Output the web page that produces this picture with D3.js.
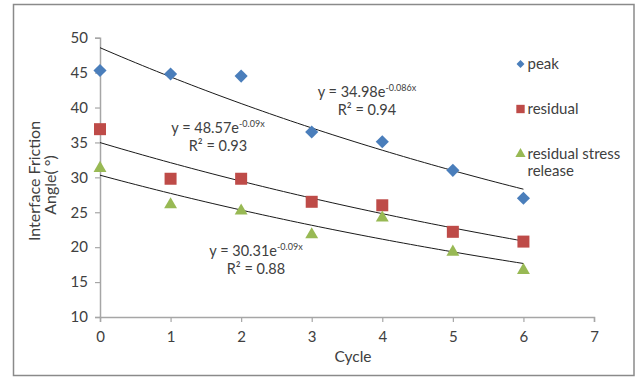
<!DOCTYPE html>
<html>
<head>
<meta charset="utf-8">
<script src="https://cdn.jsdelivr.net/npm/d3@7"></script>
<style>
  html, body { margin: 0; padding: 0; background: #fff; }
  svg text { font-family: "Lato", "Open Sans", sans-serif; fill: #404040; }
</style>
</head>
<body>
<svg id="chart" width="637" height="377"></svg>
<script>
// Interface friction angle over loading cycles
const cycles = [0, 1, 2, 3, 4, 5, 6];
const peak = [45.3, 44.8, 44.5, 36.5, 35.1, 31.0, 27.0];
const residual = [36.9, 29.8, 29.8, 26.5, 26.0, 22.2, 20.8];
const stressRelease = [31.3, 26.1, 25.2, 21.8, 24.2, 19.3, 16.7];

// exponential trendline coefficients (a * e^(b x))
const fitPeak = { a: 48.57, b: -0.09 };
const fitResidual = { a: 34.98, b: -0.086 };
const fitStress = { a: 30.31, b: -0.09 };

const seriesNames = ["peak", "residual", "residual stress release"];
const xTicks = [0, 1, 2, 3, 4, 5, 6, 7];
const yTicks = [10, 15, 20, 25, 30, 35, 40, 45, 50];

const colors = { peak: "#4a7ebb", residual: "#be4b48", stress: "#98b954" };

const svg = d3.select("#chart");

// outer frame
svg.append("rect")
  .attr("x", 13.5).attr("y", 4.5).attr("width", 620.5).attr("height", 371)
  .attr("fill", "#fff").attr("stroke", "#8a8a8a").attr("stroke-width", 1.5);

const x = d3.scaleLinear().domain([0, 7]).range([100, 594]);
const y = d3.scaleLinear().domain([10, 50]).range([317, 37.7]);

const axisColor = "#a6a6a6";

// y axis
const yAxis = svg.append("g").attr("transform", `translate(${x(0)},0)`)
  .call(d3.axisLeft(y).tickValues(yTicks).tickFormat(d3.format("d")).tickSize(5).tickPadding(7));
// x axis
const xAxis = svg.append("g").attr("transform", `translate(0,${y(10)})`)
  .call(d3.axisBottom(x).tickValues(xTicks).tickFormat(d3.format("d")).tickSize(5).tickPadding(9));

[yAxis, xAxis].forEach(g => {
  g.select(".domain").attr("stroke", axisColor).attr("stroke-width", 1.5);
  g.selectAll(".tick line").attr("stroke", axisColor).attr("stroke-width", 1.2);
  g.selectAll(".tick text").attr("font-size", 15).attr("fill", "#404040")
    .style("font-family", "Lato, sans-serif");
});

// axis titles
svg.append("text").attr("x", x(3.5) + 6).attr("y", 362)
  .attr("text-anchor", "middle").attr("font-size", 15.5).text("Cycle");
const yt = svg.append("text").attr("transform", "translate(35,181) rotate(-90)")
  .attr("text-anchor", "middle").attr("font-size", 16);
yt.append("tspan").attr("x", 0).attr("y", 5).text("Interface Friction");
yt.append("tspan").attr("x", -4).attr("y", 21).text("Angle( °)");

// trendlines
const xs = d3.range(0, 6.0001, 0.1);
const line = d3.line().x(d => x(d[0])).y(d => y(d[1]));
[fitPeak, fitResidual, fitStress].forEach(f => {
  svg.append("path")
    .datum(xs.map(v => [v, f.a * Math.exp(f.b * v)]))
    .attr("d", line).attr("fill", "none").attr("stroke", "#1a1a1a").attr("stroke-width", 1);
});

// markers
const diamond = d3.symbol().type(d3.symbolDiamond2).size(110);
const square = d3.symbol().type(d3.symbolSquare).size(144);
const tri = d3.symbol().type(d3.symbolTriangle).size(72);

function drawSeries(vals, sym, color) {
  svg.append("g").selectAll("path").data(vals).join("path")
    .attr("transform", (d, i) => `translate(${x(cycles[i])},${y(d)})`)
    .attr("d", sym).attr("fill", color);
}
drawSeries(peak, diamond, colors.peak);
drawSeries(residual, square, colors.residual);
drawSeries(stressRelease, tri, colors.stress);

// equation labels
function eq(cx, cy, a, b, r2) {
  const t = svg.append("text").attr("x", cx).attr("y", cy).attr("text-anchor", "middle").attr("font-size", 14.5);
  t.append("tspan").text(`y = ${a}e`);
  t.append("tspan").attr("dy", -6).attr("font-size", 9).text(`${b}x`);
  svg.append("text").attr("x", cx).attr("y", cy + 18).attr("text-anchor", "middle")
    .attr("font-size", 14.5).text(`R² = ${r2}`);
}
eq(367, 97, "34.98", "-0.086", "0.94");
eq(218, 133, "48.57", "-0.09", "0.93");
eq(256, 256, "30.31", "-0.09", "0.88");

// legend
const legend = svg.append("g");
const legendItems = [
  { sym: d3.symbol().type(d3.symbolDiamond2).size(40), color: colors.peak, y: 64, lines: ["peak"] },
  { sym: d3.symbol().type(d3.symbolSquare).size(70), color: colors.residual, y: 109, lines: ["residual"] },
  { sym: d3.symbol().type(d3.symbolTriangle).size(45), color: colors.stress, y: 154, lines: ["residual stress", "release"] }
];
legendItems.forEach(it => {
  legend.append("path").attr("transform", `translate(520.5,${it.y})`).attr("d", it.sym).attr("fill", it.color);
  it.lines.forEach((s, k) => {
    legend.append("text").attr("x", 527.5).attr("y", it.y + 5 + k * 17).attr("font-size", 15).text(s);
  });
});
</script>
</body>
</html>
